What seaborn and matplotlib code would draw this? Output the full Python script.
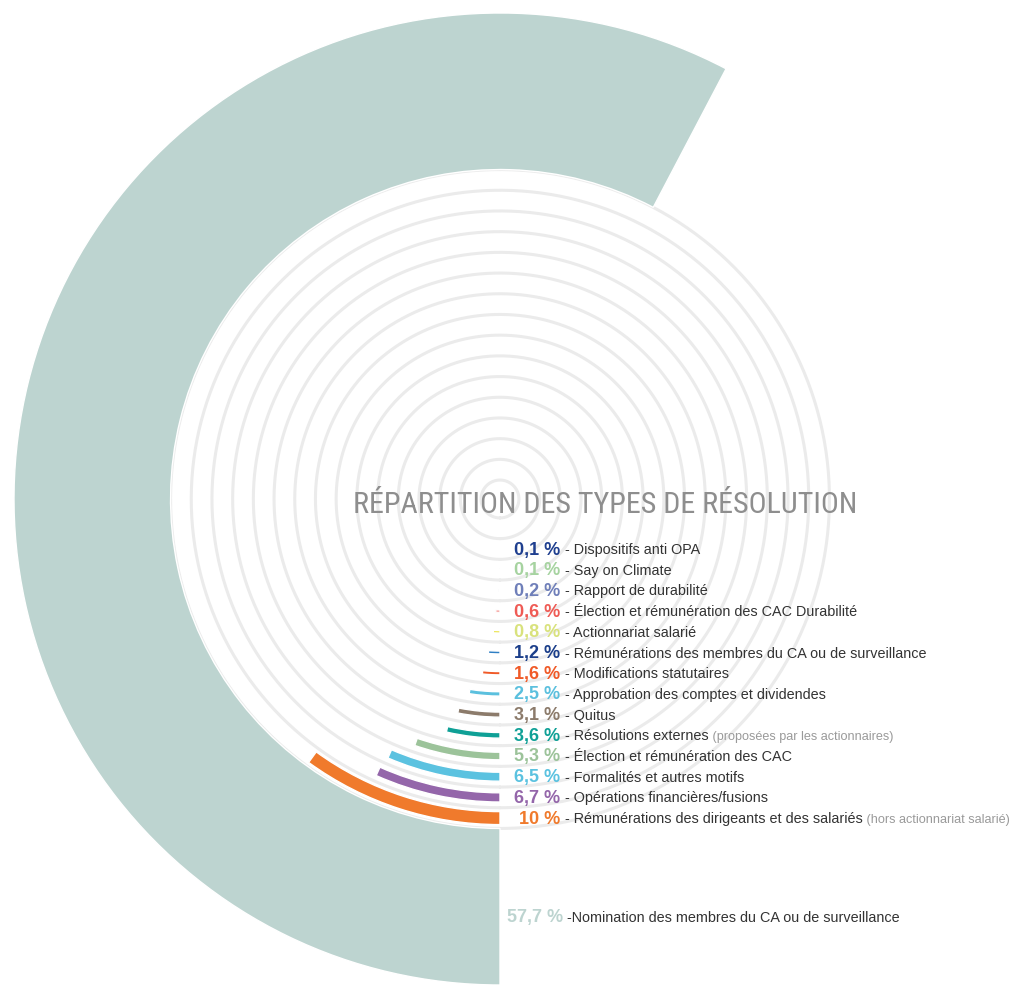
import numpy as np
import seaborn as sns
import matplotlib.pyplot as plt

# shares of resolution types, from the innermost ring outwards (%)
labels = [
    "Dispositifs anti OPA",
    "Say on Climate",
    "Rapport de durabilité",
    "Élection et rémunération des CAC Durabilité",
    "Actionnariat salarié",
    "Rémunérations des membres du CA ou de surveillance",
    "Modifications statutaires",
    "Approbation des comptes et dividendes",
    "Quitus",
    "Résolutions externes",
    "Élection et rémunération des CAC",
    "Formalités et autres motifs",
    "Opérations financières/fusions",
    "Rémunérations des dirigeants et des salariés",
]
notes = ["", "", "", "", "", "", "", "", "",
         "(proposées par les actionnaires)", "", "", "",
         "(hors actionnariat salarié)"]
values = [0.1, 0.1, 0.2, 0.6, 0.8, 1.2, 1.6, 2.5, 3.1, 3.6, 5.3, 6.5, 6.7, 10]

main_label = "Nomination des membres du CA ou de surveillance"
main_value = 57.7

title = "RÉPARTITION DES TYPES DE RÉSOLUTION"

bar_colors = ["#1f3f8f", "#a6d3a0", "#7a6fb3", "#ef5b55", "#e8e03a",
              "#2f7fc4", "#f05a28", "#5bc0de", "#8c7b6b", "#0fa096",
              "#9cc39a", "#5bc2e0", "#9466aa", "#f07a2c"]
text_colors = ["#1f3f8f", "#a6d3a0", "#6f7fb9", "#ef5b55", "#d9e27d",
               "#1c3f8a", "#f05a28", "#5bc0de", "#8c7b6b", "#0fa096",
               "#9cc39a", "#5bc2e0", "#9466aa", "#f07a2c"]
main_color = "#bdd4d0"

sns.set_theme(style="white")
plt.rcParams["font.family"] = ["Liberation Sans", "DejaVu Sans"]


def fr(v):
    return f"{v:g}".replace(".", ",") + " %"


deg_per_pct = 3.6
r_first, r_step = 50, 20.7
r_max = 490
fig = plt.figure(figsize=(10.19, 9.87), dpi=100)
# polar axes centred on pixel (500, 500) from the top left
ax = fig.add_axes([(500 - r_max) / 1019, (487 - r_max) / 987,
                   2 * r_max / 1019, 2 * r_max / 987], projection="polar")
ax.set_theta_zero_location("S")
ax.set_theta_direction(-1)
ax.set_ylim(0, r_max)
ax.set_axis_off()

# light grey rings, halfway between the bars, the last one on the big arc
full = np.linspace(0, 2 * np.pi, 400)
for k in range(16):
    rr = r_first - 1.5 * r_step + k * r_step
    ax.plot(full, np.full_like(full, rr), color="#ebebeb", lw=2.2, zorder=1)

for i, (v, lab, note) in enumerate(zip(values, labels, notes)):
    r = r_first + i * r_step
    thick = 1.5 + 1.15 * v
    ax.bar(0, thick, width=np.deg2rad(v * deg_per_pct), bottom=r - thick / 2,
           align="edge", color=bar_colors[i], zorder=2)
    ax.annotate(fr(v), xy=(0, r), xytext=(60, 0), textcoords="offset pixels",
                ha="right", va="center", fontsize=13, fontweight="bold",
                color=text_colors[i], zorder=3)
    t = ax.annotate("- " + lab, xy=(0, r), xytext=(65, 0),
                    textcoords="offset pixels", ha="left", va="center",
                    fontsize=10.4, color="#333333", zorder=3)
    if note:
        ax.annotate(" " + note, xy=(1, 0), xycoords=t, ha="left",
                    va="bottom", fontsize=9.1, color="#9a9a9a")

# the dominant category as the big outer arc
r_in, r_out = r_first - 1.5 * r_step + 15 * r_step, 486
ax.bar(0, r_out - r_in, width=np.deg2rad(main_value * deg_per_pct),
       bottom=r_in, align="edge", color=main_color, zorder=2)
r_mid = (r_in + r_out) / 2
ax.annotate(fr(main_value), xy=(0, r_mid), xytext=(63, -10),
            textcoords="offset pixels", ha="right", va="center",
            fontsize=13, fontweight="bold", color=main_color)
ax.annotate("-" + main_label, xy=(0, r_mid), xytext=(67, -10),
            textcoords="offset pixels", ha="left", va="center",
            fontsize=10.4, color="#333333")

ttl = fig.text(605 / 1019, 1 - 505 / 987, title, ha="center", va="center",
               fontsize=26, color="#8e8e8e", fontstretch="condensed",
               family=["Roboto Condensed", "Liberation Sans Narrow",
                       "DejaVu Sans"])
# shrink the title to the width it has in the original (about 505 px)
fig.canvas.draw()
w = ttl.get_window_extent().width
if w > 510:
    ttl.set_fontsize(26 * 505 / w)

fig.savefig("out.png", dpi=100)
